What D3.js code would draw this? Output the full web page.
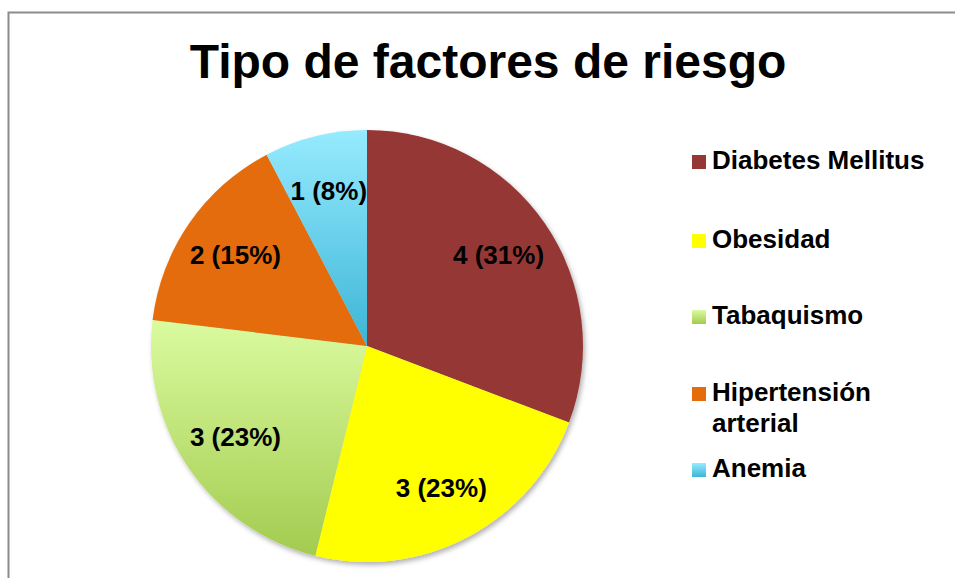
<!DOCTYPE html>
<html>
<head>
<meta charset="utf-8">
<script src="https://cdn.jsdelivr.net/npm/d3@7"></script>
<style>
  body { margin: 0; background: #fff; }
  svg { display: block; font-family: "Liberation Sans", Arial, sans-serif; }
</style>
</head>
<body>
<svg width="955" height="578"></svg>
<script>
// datos del grafico
var categorias = ['Diabetes Mellitus', 'Obesidad', 'Tabaquismo', 'Hipertensión arterial', 'Anemia']
var valores = [4, 3, 3, 2, 1]
var etiquetasLeyenda = [['Diabetes Mellitus'], ['Obesidad'], ['Tabaquismo'], ['Hipertensión', 'arterial'], ['Anemia']]
var colores = [['#953735', '#953735'], ['#FFFF00', '#FFFF00'], ['#DAFB9F', '#A3CB4F'], ['#E46C0A', '#E46C0A'], ['#96EBFF', '#3DB5D6']]

var svg = d3.select('svg')
var total = d3.sum(valores)

var defs = svg.append('defs')
colores.forEach(function(c, i) {
    var g = defs.append('linearGradient')
        .attr('id', 'grad' + i)
        .attr('x1', 0).attr('y1', 0).attr('x2', 0).attr('y2', 1)
    g.append('stop').attr('offset', '0%').attr('stop-color', c[0])
    g.append('stop').attr('offset', '100%').attr('stop-color', c[1])
})
var sombra = defs.append('filter').attr('id', 'sombra')
    .attr('x', '-10%').attr('y', '-10%').attr('width', '120%').attr('height', '120%')
sombra.append('feDropShadow')
    .attr('dx', 2).attr('dy', 3).attr('stdDeviation', 2.5)
    .attr('flood-color', '#000').attr('flood-opacity', 0.3)

// marco
svg.append('rect')
    .attr('x', 8.5).attr('y', 12.5)
    .attr('width', 960).attr('height', 600)
    .attr('fill', 'none')
    .attr('stroke', '#8c8c8c')
    .attr('stroke-width', 2)

// titulo
svg.append('text')
    .attr('x', 488).attr('y', 78)
    .attr('text-anchor', 'middle')
    .style('font-size', '48px')
    .style('font-weight', 'bold')
    .text('Tipo de factores de riesgo')

var radio = 216
var pie = d3.pie().sort(null).value(function(d) { return d })
var arco = d3.arc().innerRadius(0).outerRadius(radio)
var arcoEtiqueta = d3.arc().innerRadius(radio * 0.74).outerRadius(radio * 0.74)

var g = svg.append('g').attr('transform', 'translate(367,346)')

g.append('g')
    .attr('filter', 'url(#sombra)')
    .selectAll('path')
    .data(pie(valores))
    .enter()
    .append('path')
    .attr('d', arco)
    .attr('fill', function(d, i) { return 'url(#grad' + i + ')' })

g.selectAll('text')
    .data(pie(valores))
    .enter()
    .append('text')
    .attr('transform', function(d) { return 'translate(' + arcoEtiqueta.centroid(d) + ')' })
    .attr('text-anchor', 'middle')
    .attr('dy', '0.35em')
    .style('font-size', '26px')
    .style('font-weight', 'bold')
    .text(function(d) { return d.value + ' (' + Math.round(d.value / total * 100) + '%)' })

// leyenda
var filasY = [169, 248, 324, 401, 477]
var leyenda = svg.append('g')
    .selectAll('g')
    .data(categorias)
    .enter()
    .append('g')
    .attr('transform', function(d, i) { return 'translate(692,' + filasY[i] + ')' })

leyenda.append('rect')
    .attr('x', 0).attr('y', -14)
    .attr('width', 14).attr('height', 14)
    .attr('fill', function(d, i) { return 'url(#grad' + i + ')' })

leyenda.append('text')
    .attr('x', 20)
    .style('font-size', '26px')
    .style('font-weight', 'bold')
    .selectAll('tspan')
    .data(function(d, i) { return etiquetasLeyenda[i] })
    .enter()
    .append('tspan')
    .attr('x', 20)
    .attr('dy', function(d, j) { return j ? 31 : 0 })
    .text(function(d) { return d })
</script>
</body>
</html>
